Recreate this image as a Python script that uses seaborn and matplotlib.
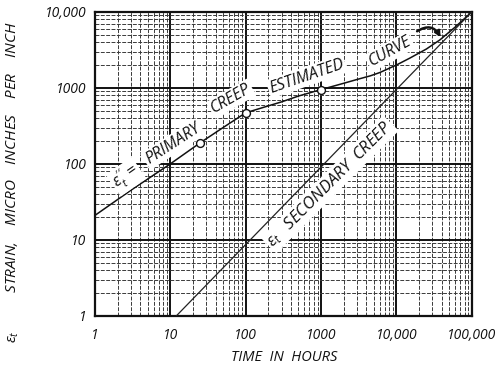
import numpy as np
import pandas as pd
import matplotlib
matplotlib.use("Agg")
import matplotlib.pyplot as plt
import matplotlib.ticker as mticker
import seaborn as sns

# ---- data ----
primary_t = [1, 3, 10, 25, 50, 100, 200, 300, 500, 1000, 2000, 3000, 4500, 6000,
             10000, 15000, 25000, 37600, 60000, 100000]
primary_strain = [21, 45, 100, 190, 300, 470, 580, 655, 780, 950, 1150, 1290, 1440, 1590,
                  2000, 2460, 3250, 4270, 6300, 10000]
points_t = [25, 100, 1000]
points_strain = [190, 470, 950]
secondary_t = [12, 100000]
secondary_strain = [1, 10000]
x_ticks = [1, 10, 100, 1000, 10000, 100000]
x_ticklabels = ["1", "10", "100", "1000", "10,000", "100,000"]
y_ticks = [1, 10, 100, 1000, 10000]
y_ticklabels = ["1", "10", "100", "1000", "10,000"]

sns.set_theme(style="white")
plt.rcParams["font.family"] = ["Open Sans", "DejaVu Sans"]
plt.rcParams["mathtext.fontset"] = "custom"
plt.rcParams["mathtext.it"] = "Open Sans:italic"
plt.rcParams["mathtext.rm"] = "Open Sans"

fig = plt.figure(figsize=(5.02, 3.70), dpi=100)
ax = fig.add_axes([0.189, 0.146, 0.751, 0.822])

df_p = pd.DataFrame({"t": primary_t, "s": primary_strain})
df_s = pd.DataFrame({"t": secondary_t, "s": secondary_strain})
df_pts = pd.DataFrame({"t": points_t, "s": points_strain})

ax.set_xscale("log")
ax.set_yscale("log")
ax.set_xlim(1, 100000)
ax.set_ylim(1, 10000)

# grid
ax.xaxis.set_minor_locator(mticker.LogLocator(base=10, subs=np.arange(2, 10)))
ax.yaxis.set_minor_locator(mticker.LogLocator(base=10, subs=np.arange(2, 10)))
ax.grid(True, which="major", color="#111111", lw=1.4)
ax.grid(True, which="minor", color="#3a3a3a", lw=0.7, ls=(0, (4, 1.5)))
ax.set_axisbelow(True)

sns.lineplot(data=df_p, x="t", y="s", ax=ax, color="#111111", lw=1.1, zorder=3)
sns.lineplot(data=df_s, x="t", y="s", ax=ax, color="#222222", lw=0.9, zorder=3)
sns.scatterplot(data=df_pts, x="t", y="s", ax=ax, s=32, facecolor="white",
                edgecolor="#111111", linewidth=1.0, zorder=4)

ax.set_xticks(x_ticks)
ax.set_xticklabels(x_ticklabels)
ax.set_yticks(y_ticks)
ax.set_yticklabels(y_ticklabels)
ax.tick_params(axis="both", which="both", length=0, labelsize=10, colors="#111111")
ax.tick_params(axis="x", pad=9)
ax.tick_params(axis="y", pad=6)
for lab in ax.get_xticklabels() + ax.get_yticklabels():
    lab.set_fontstyle("italic")

for sp in ax.spines.values():
    sp.set_visible(True)
    sp.set_color("#111111")
    sp.set_linewidth(1.6)

ax.set_xlabel("TIME  IN  HOURS", fontsize=10.5, fontstyle="italic", color="#111111")
ax.xaxis.set_label_coords(0.503, -0.112)
ax.set_ylabel(r"$\varepsilon_t$          STRAIN,    MICRO    INCHES    PER    INCH",
              fontsize=11, fontstyle="italic", color="#111111")
ax.yaxis.set_label_coords(-0.195, 0.44)

# annotations along the curves
tk = dict(fontsize=11.5, fontstyle="italic", color="#111111", ha="center", va="center",
          rotation_mode="anchor", zorder=5,
          bbox=dict(boxstyle="square,pad=0.1", fc="white", ec="none"))
ax.text(2.6, 68, r"$\varepsilon_t''$ =", rotation=35, **tk)
ax.text(10.8, 182, "PRIMARY", rotation=33, **tk)
ax.text(64, 720, "CREEP", rotation=30, **tk)
ax.text(647, 1420, "ESTIMATED", rotation=19, **tk)
ax.text(8170, 3000, "CURVE", rotation=29, **tk)
tk2 = dict(tk, fontsize=12)
ax.text(1300, 54, r"$\varepsilon_t$   SECONDARY  CREEP", rotation=45, **tk2)

ax.annotate("", xy=(40000, 4300), xytext=(17500, 5300),
            arrowprops=dict(arrowstyle="-|>", color="#111111", lw=1.8,
                            connectionstyle="arc3,rad=-0.6", mutation_scale=8),
            zorder=6)

fig.savefig("out.png", dpi=100, facecolor="white")
